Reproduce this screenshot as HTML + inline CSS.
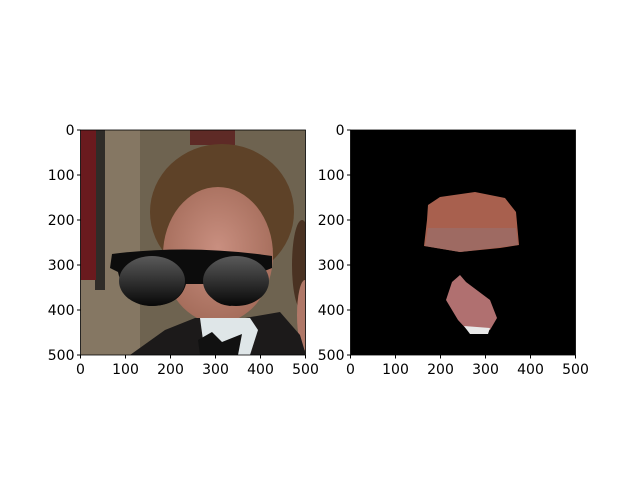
<!DOCTYPE html>
<html><head><meta charset="utf-8"><style>
body{margin:0;background:#fff;}
svg{display:block;font-family:"DejaVu Sans","Liberation Sans",sans-serif;}
</style></head><body>
<svg width="640" height="480" viewBox="0 0 640 480">
<defs>
<linearGradient id="lens" x1="0" y1="0" x2="0" y2="1"><stop offset="0" stop-color="#5a5a5a"/><stop offset="1" stop-color="#080808"/></linearGradient>
<radialGradient id="skin" cx="0.5" cy="0.45" r="0.6"><stop offset="0" stop-color="#c98f80"/><stop offset="1" stop-color="#a26a58"/></radialGradient>
<clipPath id="c1"><rect x="80.5" y="130" width="225" height="225"/></clipPath>
<clipPath id="c2"><rect x="350.5" y="130" width="225" height="225"/></clipPath>
</defs>
<g clip-path="url(#c1)">
<rect x="80" y="130" width="226" height="226" fill="#6e6350"/>
<rect x="80" y="130" width="60" height="226" fill="#857763"/>
<rect x="95" y="130" width="10" height="160" fill="#2f2c28"/>
<rect x="80" y="130" width="16" height="150" fill="#6a1a1e"/>
<rect x="190" y="130" width="45" height="15" fill="#5e2a26"/>
<ellipse cx="222" cy="212" rx="72" ry="68" fill="#5e4228"/>
<ellipse cx="218" cy="255" rx="55" ry="68" fill="url(#skin)"/>
<ellipse cx="302" cy="265" rx="10" ry="45" fill="#4a3222"/>
<ellipse cx="305" cy="315" rx="8" ry="35" fill="#b07868"/>
<path d="M130 355 L165 330 L195 318 L245 318 L280 312 L300 335 L306 355 Z" fill="#1c1a1a"/>
<path d="M200 318 L250 318 L258 330 L250 355 L205 355 Z" fill="#dfe6e8"/>
<path d="M198 340 L212 332 L222 342 L242 334 L238 355 L200 355 Z" fill="#111"/>
<path d="M112 254 Q190 244 272 256 L272 268 L262 272 Q255 302 230 306 Q210 304 204 284 L186 284 Q180 306 150 306 Q125 304 118 272 L110 268 Z" fill="#0c0c0c"/>
<ellipse cx="152" cy="281" rx="33" ry="25" fill="url(#lens)"/>
<ellipse cx="236" cy="281" rx="33" ry="25" fill="url(#lens)"/>
</g>
<rect x="80.5" y="130" width="225" height="225" fill="none" stroke="#000" stroke-width="0.8"/>
<g clip-path="url(#c2)">
<rect x="350" y="130" width="226" height="226" fill="#000"/>
<path d="M428 205 L440 197 L475 192 L505 198 L516 212 L519 245 L500 248 L460 252 L424 246 L427 220 Z" fill="#a8604e"/>
<path d="M428 228 L516 228 L518 245 L460 252 L425 246 Z" fill="#9e6a62"/>
<path d="M452 282 L460 275 L466 282 L490 300 L497 318 L490 330 L470 333 L458 320 L446 300 Z" fill="#b07070"/>
<path d="M464 326 L490 328 L488 334 L470 334 Z" fill="#e8e8e8"/>
</g>
<rect x="350.5" y="130" width="225" height="225" fill="none" stroke="#000" stroke-width="0.8"/>
<g id="ticks" font-size="14" fill="#000"></g>
</svg>
<script>
const tickVals=[0,100,200,300,400,500];
const axes=[{x:80.5,y:130},{x:350.5,y:130}];
const g=document.getElementById('ticks');
const ns='http://www.w3.org/2000/svg';
const sc=v=>v*225/500;
axes.forEach((a,ai)=>{
 tickVals.forEach(v=>{
  const xl=document.createElementNS(ns,'line');
  
  
  xl.setAttribute('x1',a.x+sc(v));xl.setAttribute('x2',a.x+sc(v));
  xl.setAttribute('y1',a.y+225);xl.setAttribute('y2',a.y+228.5);xl.setAttribute('stroke','#000');
  g.appendChild(xl);
  const xt=document.createElementNS(ns,'text');
  
  
  xt.setAttribute('x',a.x+sc(v));xt.setAttribute('y',a.y+244);xt.setAttribute('text-anchor','middle');
  xt.textContent=v;g.appendChild(xt);
  const yl=document.createElementNS(ns,'line');
  
  
  yl.setAttribute('x1',a.x-3.5);yl.setAttribute('x2',a.x);
  yl.setAttribute('y1',a.y+sc(v));yl.setAttribute('y2',a.y+sc(v));yl.setAttribute('stroke','#000');
  g.appendChild(yl);
  const yt=document.createElementNS(ns,'text');
  
  
  yt.setAttribute('x',a.x-6);yt.setAttribute('y',a.y+sc(v)+5);yt.setAttribute('text-anchor','end');
  yt.textContent=v;g.appendChild(yt);
 });
});
</script>
</body></html>
